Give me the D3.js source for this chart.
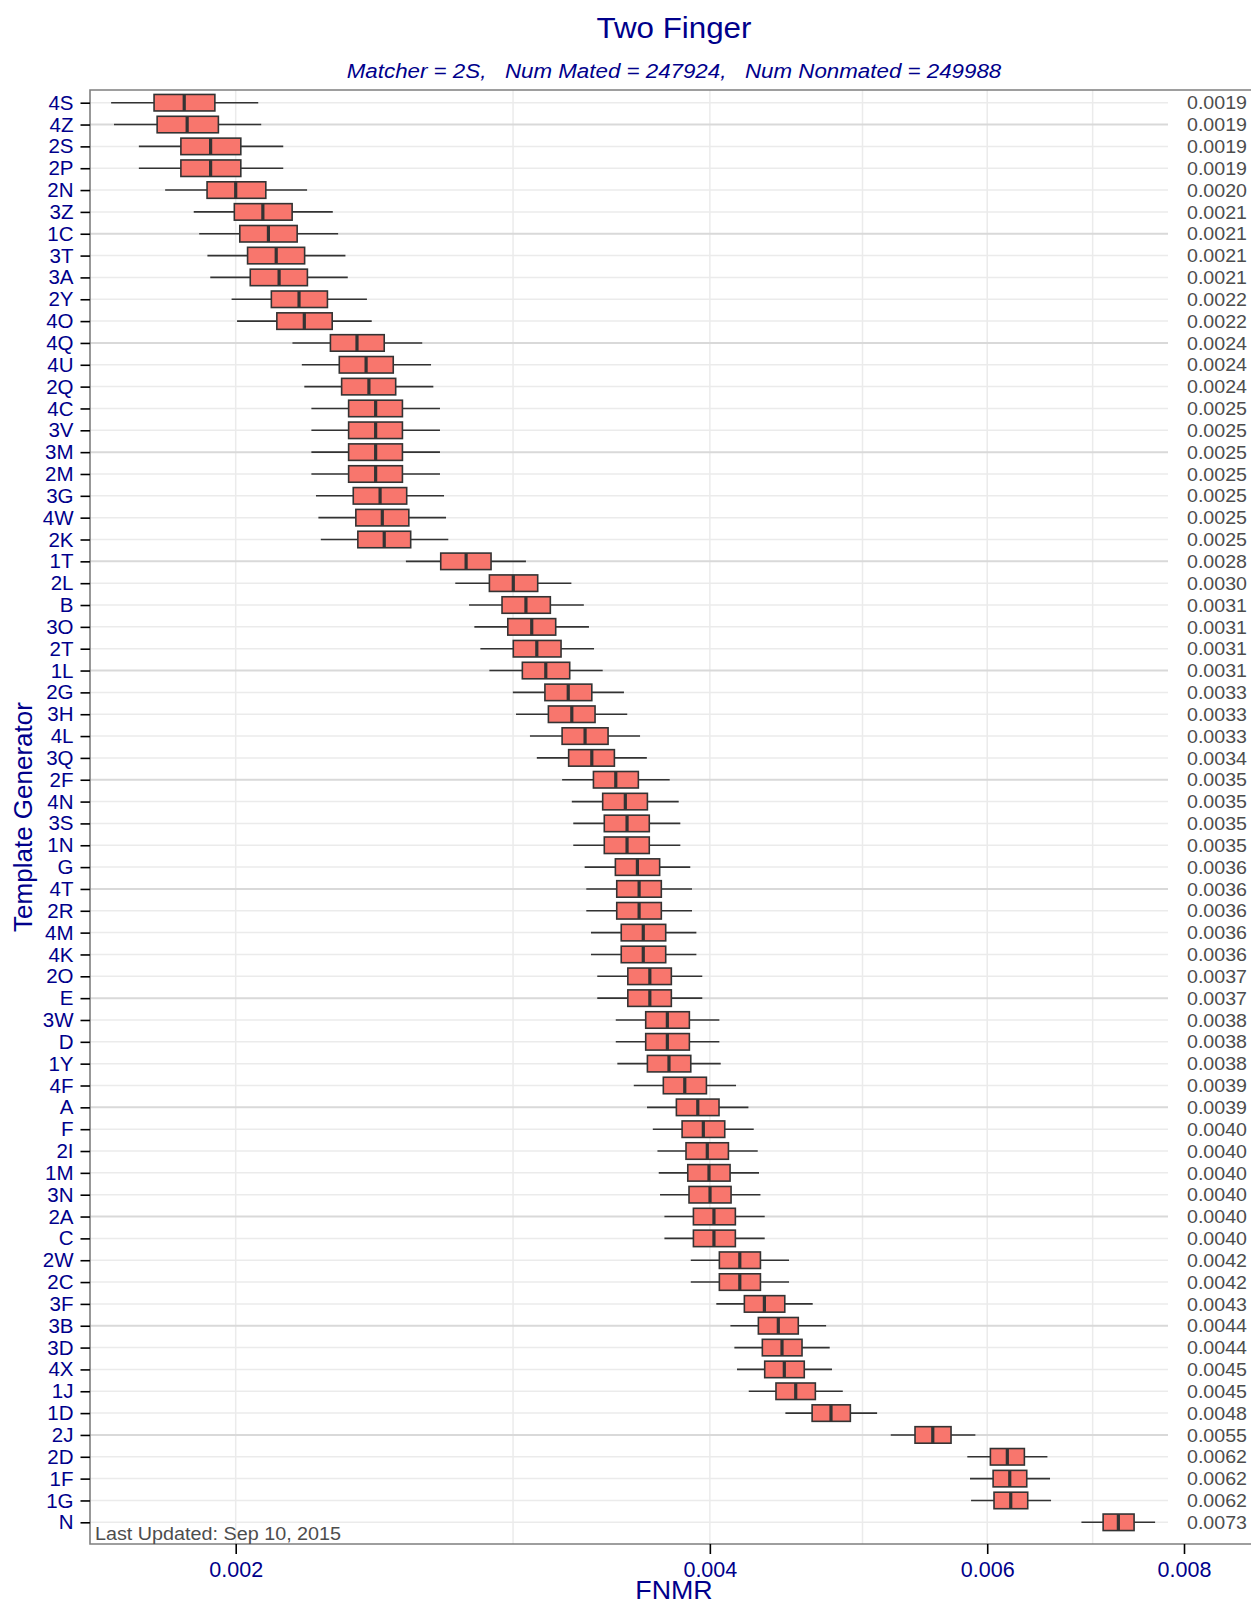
<!DOCTYPE html>
<html>
<head>
<meta charset="utf-8">
<script src="https://d3js.org/d3.v7.min.js"></script>
<style>
  html, body { margin: 0; padding: 0; background: #ffffff; }
  svg { display: block; }
  text { font-family: "Liberation Sans", Arial, Helvetica, sans-serif; }
</style>
</head>
<body>
<div id="chart"></div>
<script>
const categories = ["4S","4Z","2S","2P","2N","3Z","1C","3T","3A","2Y","4O","4Q","4U","2Q","4C","3V","3M","2M","3G","4W","2K","1T","2L","B","3O","2T","1L","2G","3H","4L","3Q","2F","4N","3S","1N","G","4T","2R","4M","4K","2O","E","3W","D","1Y","4F","A","F","2I","1M","3N","2A","C","2W","2C","3F","3B","3D","4X","1J","1D","2J","2D","1F","1G","N"];

const whiskerLow = [0.001667,0.001674,0.001736,0.001736,0.001804,0.001881,0.001896,0.001919,0.001927,0.001988,0.002004,
  0.002173,0.002203,0.002211,0.002234,0.002234,0.002234,0.002234,0.002249,0.002257,0.002265,
  0.002565,0.002757,0.002813,0.002835,0.002860,0.002898,0.002999,0.003013,0.003075,0.003106,
  0.003223,0.003269,0.003276,0.003276,0.003331,0.003339,0.003339,0.003362,0.003362,0.003393,
  0.003393,0.003486,0.003486,0.003494,0.003579,0.003649,0.003680,0.003705,0.003712,0.003719,
  0.003743,0.003743,0.003890,0.003890,0.004038,0.004122,0.004146,0.004162,0.004234,0.004467,
  0.005211,0.005828,0.005851,0.005860,0.006886];

const q1 = [0.001775,0.001783,0.001846,0.001846,0.001918,0.001996,0.002012,0.002035,0.002043,0.002107,0.002124,
  0.002297,0.002327,0.002335,0.002359,0.002359,0.002359,0.002359,0.002375,0.002384,0.002391,
  0.002699,0.002898,0.002952,0.002977,0.003001,0.003041,0.003143,0.003159,0.003223,0.003254,
  0.003374,0.003420,0.003428,0.003428,0.003484,0.003491,0.003491,0.003514,0.003514,0.003548,
  0.003548,0.003642,0.003642,0.003651,0.003737,0.003809,0.003841,0.003863,0.003873,0.003880,
  0.003905,0.003905,0.004056,0.004056,0.004207,0.004294,0.004319,0.004334,0.004406,0.004645,
  0.005399,0.006028,0.006052,0.006060,0.007108];

const median = [0.001855,0.001863,0.001928,0.001928,0.002000,0.002081,0.002098,0.002122,0.002131,0.002194,0.002211,
  0.002388,0.002420,0.002430,0.002454,0.002454,0.002454,0.002454,0.002470,0.002478,0.002485,
  0.002801,0.003001,0.003057,0.003083,0.003106,0.003147,0.003252,0.003269,0.003333,0.003366,
  0.003486,0.003535,0.003544,0.003544,0.003598,0.003607,0.003607,0.003629,0.003629,0.003664,
  0.003664,0.003759,0.003759,0.003768,0.003856,0.003930,0.003962,0.003985,0.003995,0.004001,
  0.004024,0.004024,0.004179,0.004179,0.004332,0.004421,0.004445,0.004460,0.004535,0.004775,
  0.005541,0.006179,0.006201,0.006210,0.007268];

const q3 = [0.001940,0.001950,0.002015,0.002015,0.002090,0.002172,0.002188,0.002212,0.002221,0.002287,0.002303,
  0.002485,0.002518,0.002527,0.002552,0.002552,0.002552,0.002552,0.002568,0.002576,0.002583,
  0.002905,0.003110,0.003168,0.003193,0.003218,0.003259,0.003366,0.003382,0.003447,0.003479,
  0.003603,0.003651,0.003661,0.003661,0.003717,0.003726,0.003726,0.003750,0.003750,0.003781,
  0.003781,0.003882,0.003882,0.003890,0.003980,0.004054,0.004088,0.004110,0.004120,0.004126,
  0.004152,0.004152,0.004307,0.004307,0.004463,0.004552,0.004577,0.004592,0.004667,0.004912,
  0.005691,0.006335,0.006357,0.006366,0.007437];

const whiskerHigh = [0.002067,0.002076,0.002144,0.002144,0.002220,0.002305,0.002323,0.002348,0.002356,0.002423,0.002440,
  0.002627,0.002661,0.002670,0.002696,0.002696,0.002696,0.002696,0.002712,0.002720,0.002729,
  0.003057,0.003267,0.003327,0.003352,0.003377,0.003420,0.003528,0.003545,0.003612,0.003648,
  0.003772,0.003822,0.003831,0.003831,0.003887,0.003897,0.003897,0.003922,0.003922,0.003956,
  0.003956,0.004056,0.004056,0.004064,0.004156,0.004232,0.004265,0.004290,0.004298,0.004307,
  0.004334,0.004334,0.004491,0.004491,0.004649,0.004741,0.004766,0.004782,0.004858,0.005108,
  0.005897,0.006552,0.006577,0.006587,0.007669];

const medianLabels = ["0.0019","0.0019","0.0019","0.0019","0.0020","0.0021","0.0021","0.0021","0.0021","0.0022","0.0022",
  "0.0024","0.0024","0.0024","0.0025","0.0025","0.0025","0.0025","0.0025","0.0025","0.0025",
  "0.0028","0.0030","0.0031","0.0031","0.0031","0.0031","0.0033","0.0033","0.0033","0.0034",
  "0.0035","0.0035","0.0035","0.0035","0.0036","0.0036","0.0036","0.0036","0.0036","0.0037",
  "0.0037","0.0038","0.0038","0.0038","0.0039","0.0039","0.0040","0.0040","0.0040","0.0040",
  "0.0040","0.0040","0.0042","0.0042","0.0043","0.0044","0.0044","0.0045","0.0045","0.0048",
  "0.0055","0.0062","0.0062","0.0062","0.0073"];

const xTicks = [0.002, 0.004, 0.006, 0.008];
const xGrid = [0.002, 0.003, 0.004, 0.005, 0.006, 0.007];

const titleText = "Two Finger";
const subtitleText = "Matcher = 2S,   Num Mated = 247924,   Num Nonmated = 249988";
const xTitle = "FNMR";
const yTitle = "Template Generator";
const footnote = "Last Updated: Sep 10, 2015";

// ---- layout ----
const W = 1251, H = 1604;
const panel = { left: 90, top: 90, bottom: 1544, right: 1258, gridRight: 1168 };
const blue = "#00008B";

const svg = d3.select("#chart").append("svg").attr("width", W).attr("height", H);

const x = d3.scaleLog().domain([0.002, 0.008]).range([235.7, 1184]);
const y = d3.scalePoint().domain(categories).range([102.7, 1522.3]);

const rows = categories.map((c, i) => ({
  cat: c, lo: whiskerLow[i], q1: q1[i], med: median[i], q3: q3[i], hi: whiskerHigh[i], lab: medianLabels[i], i
}));

// vertical gridlines
svg.append("g").selectAll("line").data(xGrid).join("line")
  .attr("x1", d => x(d)).attr("x2", d => x(d))
  .attr("y1", panel.top).attr("y2", panel.bottom)
  .attr("stroke", "#ebebeb").attr("stroke-width", 1.5);

// horizontal gridlines
svg.append("g").selectAll("line").data(rows).join("line")
  .attr("x1", panel.left).attr("x2", panel.gridRight)
  .attr("y1", d => y(d.cat)).attr("y2", d => y(d.cat))
  .attr("stroke", d => (d.i % 5 === 1) ? "#d9d9d9" : "#ebebeb")
  .attr("stroke-width", d => (d.i % 5 === 1) ? 2 : 1.5);

// boxes
const bh = 16.5;
const g = svg.append("g");
g.selectAll("line.wh").data(rows).join("line").attr("class", "wh")
  .attr("x1", d => x(d.lo)).attr("x2", d => x(d.hi))
  .attr("y1", d => y(d.cat)).attr("y2", d => y(d.cat))
  .attr("stroke", "#333333").attr("stroke-width", 1.6);
g.selectAll("rect").data(rows).join("rect")
  .attr("x", d => x(d.q1)).attr("width", d => x(d.q3) - x(d.q1))
  .attr("y", d => y(d.cat) - bh / 2).attr("height", bh)
  .attr("fill", "#F8766D").attr("stroke", "#333333").attr("stroke-width", 1.6);
g.selectAll("line.md").data(rows).join("line").attr("class", "md")
  .attr("x1", d => x(d.med)).attr("x2", d => x(d.med))
  .attr("y1", d => y(d.cat) - bh / 2).attr("y2", d => y(d.cat) + bh / 2)
  .attr("stroke", "#333333").attr("stroke-width", 3.2);

// right-hand median labels
svg.append("g").selectAll("text").data(rows).join("text")
  .attr("transform", d => `translate(1187,${y(d.cat)}) scale(1.06,1)`)
  .attr("dy", "0.36em")
  .attr("font-size", 18.5).attr("fill", "#4d4d4d")
  .text(d => d.lab);

// panel border (left, top, bottom)
svg.append("path")
  .attr("d", `M${W},${panel.top}H${panel.left}V${panel.bottom}H${W}`)
  .attr("fill", "none").attr("stroke", "#7f7f7f").attr("stroke-width", 1.6);

// y axis
const yAxis = svg.append("g").attr("transform", `translate(${panel.left},0)`)
  .call(d3.axisLeft(y).tickSize(9.5).tickPadding(7));
yAxis.select(".domain").remove();
yAxis.selectAll(".tick line").attr("stroke", "#000").attr("stroke-width", 1.6);
yAxis.selectAll(".tick text").attr("fill", blue).attr("font-size", 20.5)
  .attr("font-family", "'Liberation Sans', Arial, sans-serif");

// x axis
const xAxis = svg.append("g").attr("transform", `translate(0,${panel.bottom})`)
  .call(d3.axisBottom(x).tickValues(xTicks).tickFormat(d3.format(".3f")).tickSize(10).tickPadding(8));
xAxis.select(".domain").remove();
xAxis.selectAll(".tick line").attr("stroke", "#000").attr("stroke-width", 1.6);
xAxis.selectAll(".tick text").attr("fill", blue).attr("font-size", 21.5)
  .attr("font-family", "'Liberation Sans', Arial, sans-serif");

// footnote
svg.append("text").attr("transform", "translate(95,1540) scale(1.13,1)")
  .attr("font-size", 17.5).attr("fill", "#4d4d4d").text(footnote);

// titles
svg.append("text").attr("transform", "translate(674,38) scale(1.08,1)").attr("text-anchor", "middle")
  .attr("font-size", 29).attr("fill", blue).text(titleText);
svg.append("text").attr("transform", "translate(674,78) scale(1.145,1)").attr("text-anchor", "middle")
  .attr("font-size", 19.5).attr("font-style", "italic").attr("fill", blue)
  .style("white-space", "pre").text(subtitleText);
svg.append("text").attr("transform", "translate(674,1599) scale(1.05,1)").attr("text-anchor", "middle")
  .attr("font-size", 25.5).attr("fill", blue).text(xTitle);
svg.append("text").attr("transform", `translate(32,817) rotate(-90)`).attr("text-anchor", "middle")
  .attr("font-size", 26).attr("fill", blue).text(yTitle);
</script>
</body>
</html>
